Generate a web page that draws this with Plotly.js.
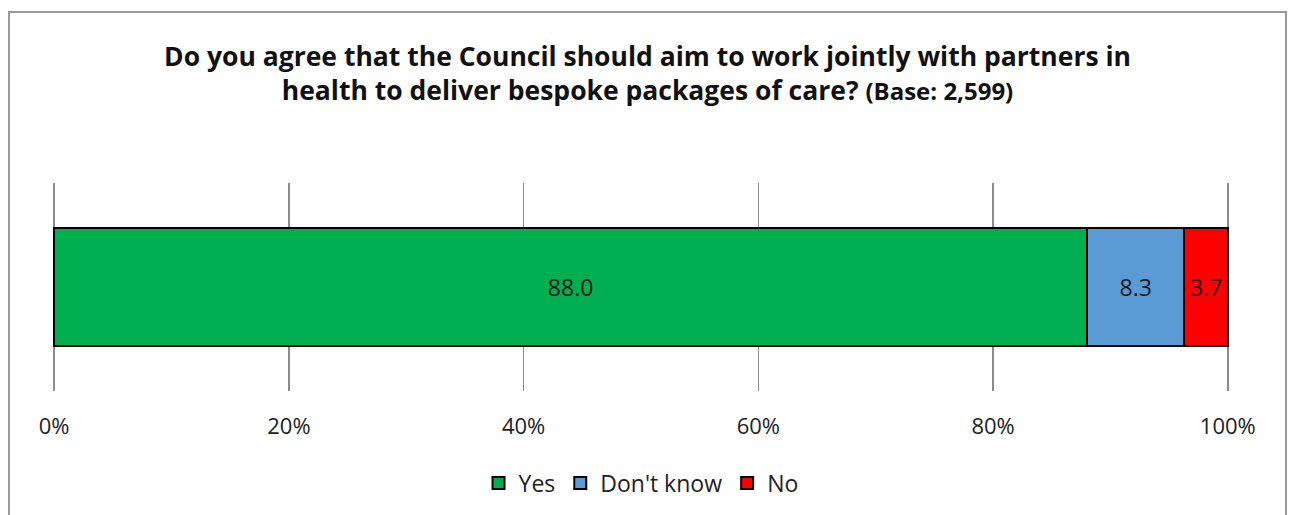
<!DOCTYPE html>
<html><head><meta charset="utf-8">
<script src="https://cdn.plot.ly/plotly-3.0.1.min.js"></script>
<style>
html,body{margin:0;padding:0;background:#fff;}
#wrap{position:relative;width:1295px;height:515px;overflow:hidden;}
#frame{position:absolute;left:8px;top:11px;width:1279px;height:520px;border:2px solid #9a9a9a;box-sizing:border-box;pointer-events:none;}
#chart{position:absolute;left:0;top:0;width:1295px;height:515px;}
</style></head>
<body><div id="wrap"><div id="chart"></div><div id="frame"></div></div>
<script>
const category = ['Q'];
const seriesNames = ['Yes', "Don't know", 'No'];
const seriesValues = [88.0, 8.3, 3.7];
const seriesColors = ['#00B050', '#5B9BD5', '#FF0000'];
const tickValues = [0, 20, 40, 60, 80, 100];
const tickLabels = ['0%', '20%', '40%', '60%', '80%', '100%'];

const FONT = 'Open Sans, Noto Sans, sans-serif';
const traces = seriesNames.map((name, i) => ({
  type: 'bar', orientation: 'h', name: name,
  y: category, x: [seriesValues[i]],
  text: [seriesValues[i].toFixed(1)],
  textposition: 'inside', insidetextanchor: 'middle', textangle: 0,
  constraintext: 'none',
  textfont: {family: FONT, size: 23, color: '#1a1a1a'},
  marker: {color: seriesColors[i], line: {color: '#000', width: 2}},
  width: 0.57, hoverinfo: 'skip'
}));

const layout = {
  width: 1295, height: 515,
  margin: {l: 53, r: 66, t: 183, b: 124},
  paper_bgcolor: '#fff', plot_bgcolor: '#fff',
  barmode: 'stack', showlegend: true,
  font: {family: FONT, color: '#222'},
  title: {
    text: '<b>Do you agree that the Council should aim to work jointly with partners in<br>health to deliver bespoke packages of care? <span style="font-size:24px">(Base: 2,599)</span></b>',
    font: {family: FONT, size: 26.5, color: '#111'},
    x: 0.5, xanchor: 'center', xref: 'container',
    y: 1 - 66/515, yanchor: 'middle', yref: 'container'
  },
  xaxis: {
    range: [-0.1, 100.1], tickvals: tickValues, ticktext: tickLabels,
    showgrid: true, gridcolor: '#8c8c8c', gridwidth: 1.5,
    zeroline: false, showline: false, ticks: '',
    tickfont: {family: FONT, size: 22, color: '#222'},
    ticklabelstandoff: 20, fixedrange: true
  },
  yaxis: {
    range: [-0.5, 0.5], showticklabels: false, showgrid: false,
    zeroline: false, showline: false, ticks: '', fixedrange: true
  },
  legend: {
    orientation: 'h', x: 0.495, xanchor: 'center', xref: 'container',
    y: 1 - 483/515, yanchor: 'middle', yref: 'container',
    font: {family: FONT, size: 23, color: '#222'},
    traceorder: 'normal', itemwidth: 30
  }
};
Plotly.newPlot('chart', traces, layout, {displayModeBar: false, staticPlot: true});
</script></body></html>
